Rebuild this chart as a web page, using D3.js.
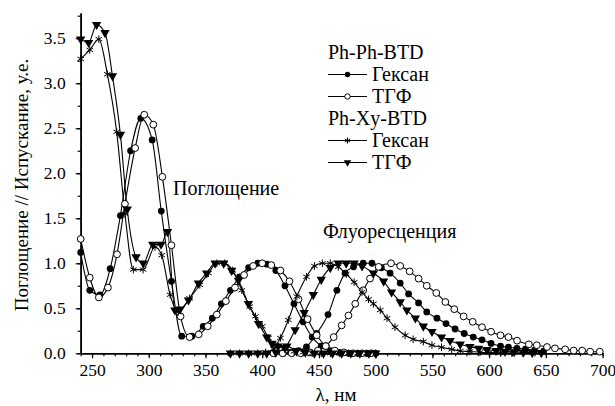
<!DOCTYPE html>
<html><head><meta charset="utf-8">
<script src="https://cdn.jsdelivr.net/npm/d3@7"></script>
</head><body style="margin:0"><svg id="c" width="615" height="406" font-family="Liberation Serif" style="font-family:'Liberation Serif'"></svg>
<script>
// x tick labels / y tick labels
const xTicks = [250,300,350,400,450,500,550,600,650,700];
const yTicks = [0,0.5,1.0,1.5,2.0,2.5,3.0,3.5];
const legendGroups = ["Ph-Ph-BTD","Ph-Xy-BTD"];
const legendLabels = ["Гексан","ТГФ","Гексан","ТГФ"];

// Absorption, Ph-Ph-BTD in hexane (filled circles)  [wavelength, value]
const absPhPhHex = [[240,1.12],[248,0.70],[257,0.65],[266,0.94],[275,1.53],[284,2.25],[293,2.61],[303,2.37],[311,1.58],[320,0.80],[329,0.19],[338,0.19],[348,0.30],[356,0.39],[364,0.55],[372,0.70],[380,0.85],[388,0.95],[396,1.0],[404,0.99],[412,0.92],[420,0.75],[428,0.55],[436,0.35],[444,0.18],[452,0.08],[460,0.03],[468,0.01],[476,0],[484,0],[492,0],[500,0]];
// Absorption, Ph-Ph-BTD in THF (open circles)
const absPhPhThf = [[240,1.27],[248,0.84],[256,0.62],[264,0.73],[272,1.10],[279,1.66],[288,2.28],[296,2.65],[304,2.54],[312,1.96],[320,1.20],[328,0.41],[336,0.18],[344,0.21],[352,0.30],[360,0.43],[368,0.58],[376,0.73],[384,0.87],[392,0.97],[400,1.0],[408,0.98],[416,0.92],[424,0.80],[432,0.60],[440,0.38],[448,0.20],[456,0.08],[464,0.03],[472,0.01],[480,0],[488,0],[496,0]];
// Absorption, Ph-Xy-BTD in hexane (asterisks)
const absPhXyHex = [[240,3.27],[248,3.37],[256,3.49],[263.5,3.10],[271.7,2.46],[279,1.55],[286.4,0.93],[295,0.93],[305.5,1.18],[311.4,1.09],[318.8,0.65],[326,0.46],[336,0.61],[345,0.76],[352.6,0.89],[360,1.0],[367,1.0],[374,0.92],[382,0.70],[389,0.52],[394,0.41],[400,0.30],[405.5,0.17],[412,0.09],[420,0.05],[428,0.02],[436,0.01],[444,0],[452,0],[460,0],[468,0],[476,0],[484,0],[492,0],[500,0]];
// Absorption, Ph-Xy-BTD in THF (down triangles)
const absPhXyThf = [[240,3.49],[247,3.45],[254,3.65],[261.4,3.56],[268,3.08],[275,2.43],[281,1.60],[288.8,1.07],[295.2,1.0],[303.5,1.21],[310.8,1.21],[316.5,1.35],[323,0.48],[327.6,0.49],[335,0.59],[343.7,0.78],[351,0.89],[358.5,1.0],[366,1.0],[373,0.92],[379,0.81],[387.8,0.55],[396.7,0.33],[404,0.18],[408.5,0.11],[414,0.08],[421.7,0.08],[430,0.03],[438,0.01],[446,0],[454,0],[462,0],[470,0],[478,0],[486,0],[494,0],[500,0]];

// Emission, Ph-Ph-BTD hexane
const emPhPhHex = [[410,0],[418,0],[425,0.01],[432,0.03],[439,0.07],[448,0.22],[458,0.43],[465.8,0.70],[473,0.89],[480.5,0.96],[489,1.0],[496.7,1.0],[505,0.95],[512.7,0.89],[521.6,0.78],[529,0.66],[537.8,0.56],[545,0.46],[554,0.39],[562,0.33],[570,0.27],[578,0.22],[586,0.18],[593.7,0.15],[601.7,0.11],[610,0.08],[617,0.067],[624.5,0.055],[632,0.045],[640,0.035],[648,0.025]];
// Emission, Ph-Ph-BTD THF
const emPhPhThf = [[410,0],[418,0],[426,0],[434,0],[442,0.01],[449,0.03],[456,0.08],[463,0.18],[470,0.31],[476,0.42],[482,0.55],[489,0.70],[495,0.83],[502.6,0.96],[513.5,1.0],[521.6,0.97],[529.9,0.91],[537.8,0.83],[545,0.75],[553.4,0.67],[561.4,0.57],[569.3,0.49],[577.5,0.41],[585.5,0.35],[593.7,0.29],[601.7,0.24],[610,0.20],[617,0.18],[624.6,0.14],[635,0.10],[642,0.09],[651,0.07],[658,0.055],[667,0.044],[674.5,0.03],[682,0.03],[689,0.018],[697.5,0.018]];
// Emission, Ph-Xy-BTD hexane
const emPhXyHex = [[372,0],[380,0],[388,0],[396,0],[403,0.01],[410,0.05],[416,0.17],[423,0.37],[430.5,0.63],[439,0.85],[446,0.97],[453,1.0],[460,1.0],[467,0.96],[474,0.88],[481,0.79],[488,0.68],[493.7,0.60],[498,0.55],[504,0.48],[510,0.39],[517,0.29],[526,0.20],[533,0.155],[542,0.13],[549.6,0.09],[558,0.067],[567,0.044],[574.6,0.026],[583,0.02],[592,0.012],[600,0.008],[610,0.005],[620,0.003]];
// Emission, Ph-Xy-BTD THF
const emPhXyThf = [[372,0],[380,0],[388,0],[396,0],[404,0],[412,0.01],[420,0.06],[429,0.26],[437,0.45],[445,0.65],[452,0.82],[460,0.95],[467,1.0],[474,1.0],[481,1.0],[488,0.97],[498,0.89],[507,0.80],[514,0.68],[521.6,0.57],[527.5,0.48],[535,0.39],[542,0.30],[549.6,0.24],[558,0.18],[565.6,0.14],[574.5,0.10],[583,0.073],[590.7,0.055],[598,0.04],[606,0.03],[614,0.02],[622,0.015],[630,0.01],[638,0.006],[646,0.004]];

const svg = d3.select("#c");
const x = d3.scaleLinear().domain([240,700]).range([80.7,602.6]);
const y = d3.scaleLinear().domain([0,3.78]).range([353.3,13]);

function txt(sel, size){ return sel.attr("font-family","Liberation Serif").style("font-family",'"Liberation Serif"').attr("font-size",size).attr("fill","#000"); }

// texts first: titles, annotations, legend texts
txt(svg.append("text").attr("x",336).attr("y",401).attr("text-anchor","middle"),19).text("λ, нм");
txt(svg.append("text").attr("transform","translate(28,185) rotate(-90)").attr("text-anchor","middle"),19).text("Поглощение // Испускание, у.е.");
txt(svg.append("text").attr("x",173).attr("y",195),20).text("Поглощение");
txt(svg.append("text").attr("x",323).attr("y",238),20).text("Флуоресценция");

const rows = [
  {t:legendGroups[0]},
  {t:legendLabels[0], sym:"fcircle"},
  {t:legendLabels[1], sym:"ocircle"},
  {t:legendGroups[1]},
  {t:legendLabels[2], sym:"star"},
  {t:legendLabels[3], sym:"tri"}
];
const lg = svg.append("g");
rows.forEach((r,i)=>{
  const base = 58.5 + i*22;
  txt(lg.append("text").attr("x", r.sym ? 372 : 328).attr("y",base),20).text(r.t);
});

// axes
const xAxis = d3.axisBottom(x).tickValues(xTicks).tickSize(5).tickSizeOuter(0).tickPadding(5).tickFormat(d3.format("d"));
const xMinor = d3.axisBottom(x).tickValues(d3.range(240,701,10)).tickSize(3).tickSizeOuter(0).tickFormat("");
const yAxis = d3.axisLeft(y).tickValues(yTicks).tickSize(5).tickSizeOuter(0).tickPadding(10).tickFormat(d3.format(".1f"));
const yMinor = d3.axisLeft(y).tickValues(d3.range(0,3.76,0.25)).tickSize(3).tickSizeOuter(0).tickFormat("");

function styleAxis(g){
  g.attr("font-family","Liberation Serif").attr("font-size",17.5);
  g.selectAll(".domain").attr("stroke","#000").attr("stroke-width",1.6);
  g.selectAll(".tick line").attr("stroke","#000").attr("stroke-width",1.2);
  txt(g.selectAll("text"), 17.5);
}
svg.append("g").attr("transform","translate(0,353.3)").call(xMinor).call(styleAxis);
svg.append("g").attr("transform","translate(0,353.3)").call(xAxis).call(styleAxis);
svg.append("g").attr("transform","translate(80.7,0)").call(yMinor).call(styleAxis);
svg.append("g").attr("transform","translate(80.7,0)").call(yAxis).call(styleAxis);

const line = d3.line().x(d=>x(d[0])).y(d=>y(d[1])).curve(d3.curveMonotoneX);

const series = [
  {abs:absPhPhHex, em:emPhPhHex, sym:"fcircle"},
  {abs:absPhPhThf, em:emPhPhThf, sym:"ocircle"},
  {abs:absPhXyHex, em:emPhXyHex, sym:"star"},
  {abs:absPhXyThf, em:emPhXyThf, sym:"tri"}
];

function drawMarker(g, type, cx, cy, s){
  s = s||1;
  if(type==="fcircle"){
    g.append("circle").attr("cx",cx).attr("cy",cy).attr("r",3.4*s).attr("fill","#000");
  } else if(type==="ocircle"){
    g.append("circle").attr("cx",cx).attr("cy",cy).attr("r",3.4*s).attr("fill","#fff").attr("stroke","#000").attr("stroke-width",1);
  } else if(type==="star"){
    g.append("path").attr("transform",`translate(${cx},${cy})`).attr("d",d3.symbol(d3.symbolAsterisk, 40*s*s)()).attr("stroke","#000").attr("stroke-width",1).attr("fill","none");
  } else {
    g.append("path").attr("transform",`translate(${cx},${cy}) rotate(180)`).attr("d",d3.symbol(d3.symbolTriangle, 38*s*s)()).attr("fill","#000");
  }
}

const plot = svg.append("g");
series.forEach(s=>{
  [s.abs, s.em].forEach(arr=>{
    plot.append("path").attr("d",line(arr)).attr("fill","none").attr("stroke","#000").attr("stroke-width",1.1);
  });
});
series.forEach(s=>{
  [s.abs, s.em].forEach(arr=>{
    const g = plot.append("g");
    arr.forEach(d=>drawMarker(g, s.sym, x(d[0]), y(d[1])));
  });
});

// legend symbols
rows.forEach((r,i)=>{
  if(!r.sym) return;
  const cy = 58.5 + i*22 - 6;
  lg.append("line").attr("x1",328).attr("x2",367).attr("y1",cy).attr("y2",cy).attr("stroke","#000").attr("stroke-width",1.1);
  drawMarker(lg, r.sym, 347.5, cy, 0.8);
});
</script></body></html>
